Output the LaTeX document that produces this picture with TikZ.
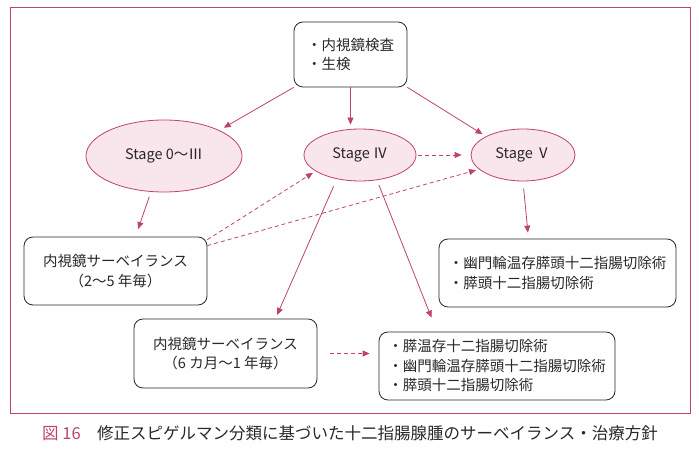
\documentclass[tikz,border=0pt]{standalone}
\usepackage{fontspec}
\setmainfont{Noto Sans CJK JP}
\usetikzlibrary{arrows.meta,shapes.geometric}
\definecolor{rose}{RGB}{190,66,114}
\definecolor{roselight}{RGB}{249,230,237}
\definecolor{ink}{RGB}{40,40,40}

\begin{document}
\begin{tikzpicture}[x=1pt,y=-1pt,font=\fontsize{14.5}{19.5}\selectfont,
		box/.style={draw=ink,line width=0.8pt,rounded corners=9pt,inner sep=0pt,text=ink},
		stagenode/.style={ellipse,draw=rose,fill=roselight,line width=0.8pt,inner sep=0pt,text=ink},
		link/.style={rose,line width=0.8pt,-{Triangle[length=7pt,width=6pt]}},
		dlink/.style={link,dash pattern=on 4pt off 3pt}]
		\useasboundingbox (0,0) rectangle (699,449);
		\draw[rose,line width=0.9pt] (10,7) rectangle (690,413);
		\node[box,minimum width=113pt,minimum height=65pt,align=left] (exam) at (350.5,54.5) {・内視鏡検査\\・生検};
		\node[stagenode,minimum width=156pt,minimum height=72pt] (s03) at (164,156) {Stage 0～Ⅲ};
		\node[stagenode,minimum width=112pt,minimum height=52pt] (s4) at (360,155) {Stage Ⅳ};
		\node[stagenode,minimum width=104pt,minimum height=52pt] (s5) at (523,155) {Stage Ⅴ};
		\node[box,minimum width=183pt,minimum height=68pt,align=center] (surv1) at (115.5,271) {内視鏡サーベイランス\\（2～5 年毎）};
		\node[box,minimum width=237pt,minimum height=68pt,align=left] (op1) at (557.5,273) {・幽門輪温存膵頭十二指腸切除術\\・膵頭十二指腸切除術};
		\node[box,minimum width=183pt,minimum height=69pt,align=center] (surv2) at (225.5,353.5) {内視鏡サーベイランス\\（6 カ月～1 年毎）};
		\node[box,minimum width=236pt,minimum height=68pt,align=left] (op2) at (497,366) {・膵温存十二指腸切除術\\・幽門輪温存膵頭十二指腸切除術\\・膵頭十二指腸切除術};
		\node[font=\fontsize{16.5}{20}\selectfont,text=ink] (cap) at (350,433) {\textcolor{rose}{図 16}\quad 修正スピゲルマン分類に基づいた十二指腸腺腫のサーベイランス・治療方針};
		% solid arrows
		\draw[link,shorten >=5pt] (exam.south west) -- (s03.north east);
		\draw[link,shorten >=4pt] (exam.south) -- (exam.south |- s4.north);
		\draw[link,shorten >=4pt] (exam.south east) -- (s5.north west);
		\draw[link,shorten <=5pt,shorten >=8pt] (s03.250) -- ([xshift=20pt]surv1.north);
		\draw[link,shorten <=8pt,shorten >=4pt] (s4.226) -- ([xshift=50pt]surv2.north);
		\draw[link,shorten <=5pt,shorten >=15pt] (s4.304) -- ([xshift=-60pt]op2.north);
		\draw[link,shorten <=7pt,shorten >=6pt] (s5.south) -- ([xshift=-29pt]op1.north);
		% dashed arrows
		\draw[dlink,shorten <=2pt,shorten >=9pt] (s4.east) -- (s5.west);
		\draw[dlink,shorten >=3pt] ([yshift=-3pt]surv1.north east) -- (s4.200);
		\draw[dlink,shorten >=3pt] ([yshift=-9pt]surv1.north east) -- (s5.198);
		\draw[dlink,shorten <=13pt,shorten >=9pt] (surv2.east) -- (surv2.east -| op2.west);
	\end{tikzpicture}
\end{document}
